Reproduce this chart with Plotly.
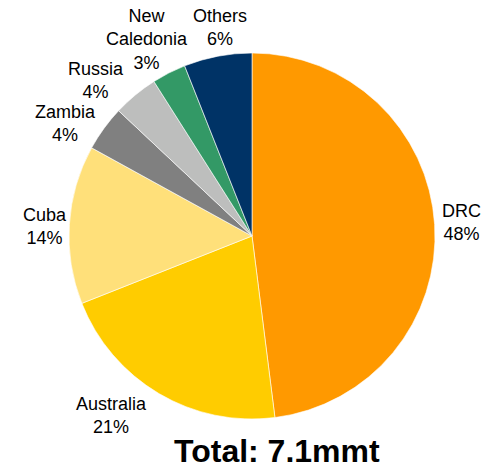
import math
import plotly.graph_objects as go

# Share of output by country (%)
countries = ["DRC", "Australia", "Cuba", "Zambia", "Russia", "New Caledonia", "Others"]
label_text = ["DRC", "Australia", "Cuba", "Zambia", "Russia", "New<br>Caledonia", "Others"]
shares = [48, 21, 14, 4, 4, 3, 6]
colors = ["#FF9900", "#FFCC00", "#FFE07A", "#808080", "#BDBEBD", "#339966", "#003366"]
total_label = "Total: 7.1mmt"

# Hand nudges for label placement: (degrees clockwise, extra pixels outward)
label_nudge = [(0, 2), (7.5, 8), (-1, -2), (-5, -2), (-5.5, 2), (-1, -5), (2, -2)]

W, H = 484, 463
CX, CY, R = 252, 236, 183          # pie centre and radius in pixels
FONT = "Liberation Sans, Arial, sans-serif"
FS = 18
LINE_H = FS * 1.3

# Approximate Arial advance widths (em) for sizing label boxes
ARIAL = {c: 0.556 for c in "abdeghnopqu0123456789"}
ARIAL.update({"c": 0.5, "f": 0.278, "i": 0.222, "j": 0.222, "k": 0.5, "l": 0.222,
              "m": 0.833, "r": 0.333, "s": 0.5, "t": 0.278, "v": 0.5, "w": 0.722,
              "x": 0.5, "y": 0.5, "z": 0.5, "%": 0.889, " ": 0.278,
              "A": 0.667, "C": 0.722, "D": 0.722, "N": 0.722, "O": 0.778,
              "R": 0.722, "Z": 0.611})


def text_width(s):
    return sum(ARIAL.get(ch, 0.6) for ch in s) * FS


fig = go.Figure(go.Pie(
    labels=countries,
    values=shares,
    sort=False,
    direction="clockwise",
    rotation=0,
    marker=dict(colors=colors, line=dict(color="white", width=0.6)),
    textinfo="none",
    hoverinfo="label+percent",
    showlegend=False,
    domain=dict(x=[(CX - R) / W, (CX + R) / W],
                y=[(H - CY - R) / H, (H - CY + R) / H]),
))

annotations = []
total = sum(shares)
cum = 0
for lab, val, (d_deg, d_px) in zip(label_text, shares, label_nudge):
    mid = (cum + val / 2) / total * 2 * math.pi
    cum += val
    s, c = math.sin(mid), math.cos(mid)
    lines = lab.split("<br>") + [f"{round(val / total * 100)}%"]
    w = max(text_width(t) for t in lines)
    h = len(lines) * LINE_H
    # label centre sits just outside the rim, pushed out by the box extent
    dist = R + 10 + 0.7 * (abs(s) * w / 2 + abs(c) * h / 2) + d_px
    ang = mid + math.radians(d_deg)
    px = CX + dist * math.sin(ang)
    py = CY - dist * math.cos(ang)
    annotations.append(dict(
        x=px / W, y=(H - py) / H, xref="paper", yref="paper",
        text=lab + "<br>" + lines[-1], showarrow=False,
        xanchor="center", yanchor="middle", align="center",
        font=dict(family=FONT, size=FS, color="#000000"),
    ))

annotations.append(dict(
    x=276.5 / W, y=(H - 451) / H, xref="paper", yref="paper",
    text=f"<b>{total_label}</b>", showarrow=False,
    xanchor="center", yanchor="middle",
    font=dict(family=FONT, size=32, color="#000000"),
))

fig.update_layout(
    width=W, height=H,
    margin=dict(l=0, r=0, t=0, b=0),
    paper_bgcolor="white", plot_bgcolor="white",
    annotations=annotations,
)

fig.write_html("out.html")
